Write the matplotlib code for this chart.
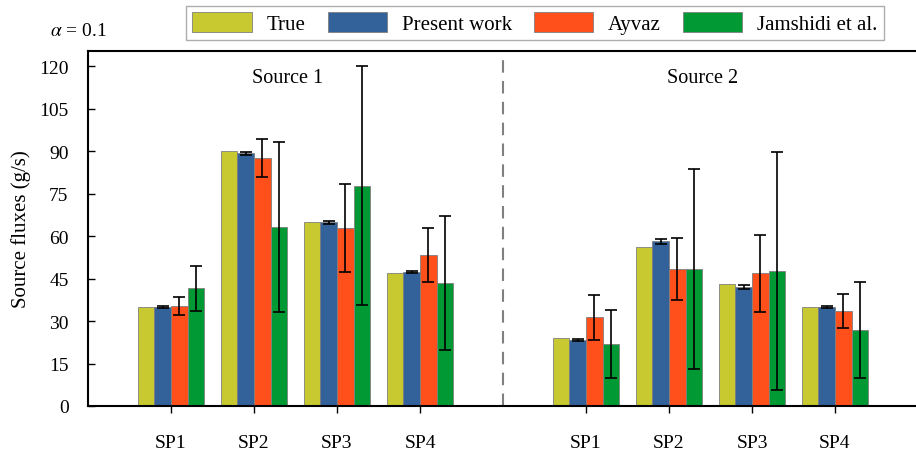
#
#  Source flux estimates, alpha = 0.1
#

import numpy as np
import matplotlib
matplotlib.use("Agg")
import matplotlib.pyplot as plt

plt.rcParams["font.family"] = ["Liberation Serif", "DejaVu Serif"]
plt.rcParams["mathtext.fontset"] = "stix"

labels = ["SP1", "SP2", "SP3", "SP4", "SP1", "SP2", "SP3", "SP4"]
series = ["True", "Present work", "Ayvaz", "Jamshidi et al."]

true_vals    = [35, 90, 65, 47, 24, 56, 43, 35]
present_vals = [35.0, 89.2, 64.8, 47.2, 23.4, 58.1, 42.0, 34.9]
present_err  = [0.3, 0.5, 0.5, 0.4, 0.3, 0.9, 0.8, 0.4]
ayvaz_vals   = [35.3, 87.5, 62.8, 53.3, 31.3, 48.4, 46.8, 33.4]
ayvaz_err    = [3.2, 6.6, 15.5, 9.6, 8.0, 10.9, 13.5, 6.0]
jam_vals     = [41.5, 63.3, 77.7, 43.5, 22.0, 48.4, 47.6, 26.8]
jam_err      = [8.0, 30.0, 42.2, 23.6, 12.0, 35.3, 42.1, 17.0]

colors = ["#C8C930", "#33619A", "#FF4F1A", "#009933"]

pos = np.array([1, 2, 3, 4, 6, 7, 8, 9])
w = 0.2

fig = plt.figure(figsize=(9.16, 4.52), dpi=100)
ax = fig.add_axes([88/916., 45/452., 830/916., 355/452.])

vals = [true_vals, present_vals, ayvaz_vals, jam_vals]
errs = [None, present_err, ayvaz_err, jam_err]
for i in range(4):
    x = pos + (i - 1.5)*w
    ax.bar(x, vals[i], w, color=colors[i], edgecolor="#7f7f7f", linewidth=0.6,
           label=series[i], zorder=2)
    if errs[i] is not None:
        ax.errorbar(x, vals[i], yerr=errs[i], fmt="none", ecolor="black",
                    elinewidth=1.2, capsize=4, capthick=1.2, zorder=3)

ax.axvline(5, color="#808080", linestyle=(0, (6, 4)), linewidth=1.5, zorder=1)

ax.set_xlim(0, 10)
ax.set_ylim(0, 125.3)
ax.set_yticks(np.arange(0, 121, 15))
ax.set_xticks(pos)
ax.set_xticklabels(labels)
ax.tick_params(axis="y", direction="in", length=5, width=1, labelsize=14, pad=14)
ax.tick_params(axis="x", direction="out", length=5, width=1, labelsize=14, pad=15)
ax.spines["right"].set_visible(False)
for s in ["left", "bottom", "top"]:
    ax.spines[s].set_linewidth(1.5)
ax.set_ylabel("Source fluxes (g/s)", fontsize=15, labelpad=6)

ax.text(2.4, 116, "Source 1", ha="center", va="center", fontsize=14.5)
ax.text(7.4, 116, "Source 2", ha="center", va="center", fontsize=14.5)

fig.text(50/916., 1 - 31/452., r"$\alpha$ = 0.1", fontsize=14, va="center")

leg = fig.legend(loc="center", bbox_to_anchor=(535/916., 1 - 24/452.), ncol=4,
                 fontsize=15, frameon=True, fancybox=False, edgecolor="#999999",
                 handlelength=2.84, handleheight=1.06, columnspacing=1.06,
                 handletextpad=0.72, borderpad=0.3, borderaxespad=0)
leg.get_frame().set_linewidth(1.0)

fig.savefig("out.png", dpi=100)
plt.close()
